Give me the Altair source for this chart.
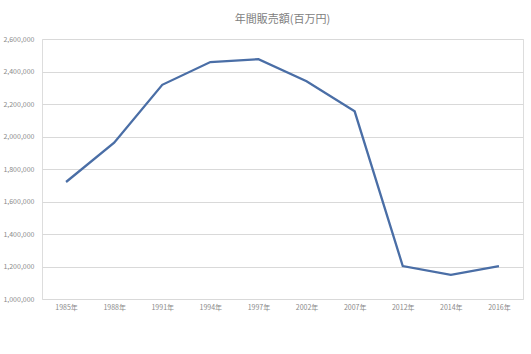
import altair as alt
import pandas as pd

years = ["1985年", "1988年", "1991年", "1994年", "1997年", "2002年", "2007年", "2012年", "2014年", "2016年"]
sales = [1720000, 1962000, 2318000, 2458000, 2476000, 2340000, 2155000, 1203000, 1148000, 1203000]

df = pd.DataFrame({"year": years, "sales": sales})

font = "Noto Sans CJK JP"

chart = alt.Chart(df).mark_line(color="#4a6ea6", strokeWidth=2.3).encode(
    x=alt.X("year:N", sort=years, title=None,
            scale=alt.Scale(type="point", padding=0.5),
            axis=alt.Axis(labelAngle=0, ticks=False, domain=False, grid=False,
                          labelFontSize=7, labelColor="#8a8a8a", labelFont=font,
                          labelPadding=4)),
    y=alt.Y("sales:Q", title=None,
            scale=alt.Scale(domain=[1000000, 2600000], nice=False, zero=False),
            axis=alt.Axis(values=list(range(1000000, 2600001, 200000)), format=",.0f",
                          ticks=False, domain=False, gridColor="#d9d9d9", gridWidth=1,
                          labelFontSize=7, labelColor="#8a8a8a", labelFont=font,
                          labelPadding=8)),
).properties(
    width=481, height=260,
    title=alt.TitleParams("年間販売額(百万円)", font=font, fontSize=11, fontWeight="normal",
                          color="#808080", anchor="middle", offset=10),
    autosize=alt.AutoSizeParams(type="none"),
    padding={"left": 42, "top": 39, "right": 8, "bottom": 55},
).configure_view(stroke=None).configure(background="white")

chart.save("out.html", embed_options={"renderer": "svg", "actions": False})
